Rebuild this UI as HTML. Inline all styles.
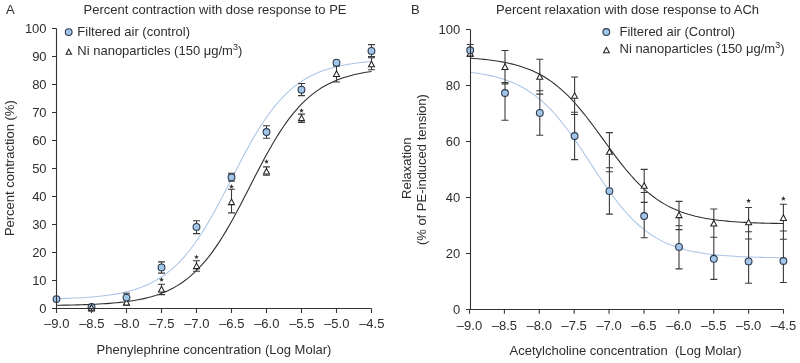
<!DOCTYPE html>
<html><head><meta charset="utf-8"><style>
html,body{margin:0;padding:0;background:#fff;}
body{width:800px;height:363px;overflow:hidden;}
svg{display:block;will-change:transform;}
text{font-family:"Liberation Sans",sans-serif;font-size:13px;fill:#2e2e2e;white-space:pre;}
</style></head><body>
<svg width="800" height="363" viewBox="0 0 800 363">
<rect width="800" height="363" fill="#fff"/>
<text x="6" y="13.8" text-anchor="start" >A</text>
<text x="411" y="13.8" text-anchor="start" >B</text>
<text x="83.5" y="14" text-anchor="start" >Percent contraction with dose response to PE</text>
<text x="496" y="14" text-anchor="start" >Percent relaxation with dose response to ACh</text>
<text x="214" y="353.8" text-anchor="middle" >Phenylephrine concentration (Log Molar)</text>
<text x="625.5" y="355.3" text-anchor="middle" >Acetylcholine concentration&#160;&#160;(Log Molar)</text>
<text x="0" y="0" text-anchor="middle" transform="translate(14.2,168.2) rotate(-90)">Percent contraction (%)</text>
<text x="0" y="0" text-anchor="middle" transform="translate(411.3,168.2) rotate(-90)">Relaxation</text>
<text x="0" y="0" text-anchor="middle" transform="translate(426.1,169.6) rotate(-90)">(% of PE-induced tension)</text>
<text x="46.6" y="313.4" text-anchor="end" >0</text>
<text x="46.6" y="285.4" text-anchor="end" >10</text>
<text x="46.6" y="257.4" text-anchor="end" >20</text>
<text x="46.6" y="229.4" text-anchor="end" >30</text>
<text x="46.6" y="201.4" text-anchor="end" >40</text>
<text x="46.6" y="173.4" text-anchor="end" >50</text>
<text x="46.6" y="145.4" text-anchor="end" >60</text>
<text x="46.6" y="117.4" text-anchor="end" >70</text>
<text x="46.6" y="89.4" text-anchor="end" >80</text>
<text x="46.6" y="61.4" text-anchor="end" >90</text>
<text x="46.6" y="33.4" text-anchor="end" >100</text>
<text x="56.8" y="328.2" text-anchor="middle" >–9.0</text>
<text x="91.8" y="328.2" text-anchor="middle" >–8.5</text>
<text x="126.8" y="328.2" text-anchor="middle" >–8.0</text>
<text x="161.8" y="328.2" text-anchor="middle" >–7.5</text>
<text x="196.8" y="328.2" text-anchor="middle" >–7.0</text>
<text x="231.8" y="328.2" text-anchor="middle" >–6.5</text>
<text x="266.8" y="328.2" text-anchor="middle" >–6.0</text>
<text x="301.8" y="328.2" text-anchor="middle" >–5.5</text>
<text x="336.8" y="328.2" text-anchor="middle" >–5.0</text>
<text x="371.8" y="328.2" text-anchor="middle" >–4.5</text>
<text x="460.3" y="313.9" text-anchor="end" >0</text>
<text x="460.3" y="257.9" text-anchor="end" >20</text>
<text x="460.3" y="201.9" text-anchor="end" >40</text>
<text x="460.3" y="145.9" text-anchor="end" >60</text>
<text x="460.3" y="89.9" text-anchor="end" >80</text>
<text x="460.3" y="33.9" text-anchor="end" >100</text>
<text x="469.5" y="329.8" text-anchor="middle" >–9.0</text>
<text x="504.3888888888889" y="329.8" text-anchor="middle" >–8.5</text>
<text x="539.2777777777778" y="329.8" text-anchor="middle" >–8.0</text>
<text x="574.1666666666666" y="329.8" text-anchor="middle" >–7.5</text>
<text x="609.0555555555555" y="329.8" text-anchor="middle" >–7.0</text>
<text x="643.9444444444445" y="329.8" text-anchor="middle" >–6.5</text>
<text x="678.8333333333334" y="329.8" text-anchor="middle" >–6.0</text>
<text x="713.7222222222222" y="329.8" text-anchor="middle" >–5.5</text>
<text x="748.6111111111111" y="329.8" text-anchor="middle" >–5.0</text>
<text x="783.5" y="329.8" text-anchor="middle" >–4.5</text>
<circle cx="68.70" cy="32.10" r="3.4" fill="#a3c5e8" stroke="#2b3a4f" stroke-width="1.1"/>
<path d="M68.80,49.16 L71.50,54.16 L66.10,54.16 Z" fill="#fff" stroke="#222" stroke-width="1.05"/>
<text x="77.3" y="35.5" text-anchor="start" >Filtered air (control)</text>
<text x="77.3" y="55.0" text-anchor="start" >Ni nanoparticles (150 μg/m<tspan dy="-5" style="font-size:9px">3</tspan><tspan dy="5">)</tspan></text>
<circle cx="606.30" cy="32.00" r="3.4" fill="#a3c5e8" stroke="#2b3a4f" stroke-width="1.1"/>
<path d="M606.40,47.35 L609.30,52.72 L603.50,52.72 Z" fill="#fff" stroke="#222" stroke-width="1.05"/>
<text x="619.5" y="36.0" text-anchor="start" >Filtered air (Control)</text>
<text x="619.5" y="53.3" text-anchor="start" >Ni nanoparticles (150 μg/m<tspan dy="-5" style="font-size:9px">3</tspan><tspan dy="5">)</tspan></text>
<path d="M56.50,298.72 L60.04,298.62 L63.58,298.51 L67.12,298.39 L70.66,298.25 L74.20,298.09 L77.74,297.91 L81.28,297.72 L84.81,297.50 L88.35,297.25 L91.89,296.97 L95.43,296.67 L98.97,296.32 L102.51,295.93 L106.05,295.50 L109.59,295.02 L113.13,294.48 L116.67,293.88 L120.21,293.21 L123.75,292.46 L127.29,291.63 L130.83,290.70 L134.37,289.66 L137.90,288.52 L141.44,287.24 L144.98,285.83 L148.52,284.27 L152.06,282.54 L155.60,280.63 L159.14,278.53 L162.68,276.22 L166.22,273.69 L169.76,270.91 L173.30,267.89 L176.84,264.59 L180.38,261.02 L183.92,257.15 L187.46,252.99 L190.99,248.52 L194.53,243.75 L198.07,238.67 L201.61,233.30 L205.15,227.65 L208.69,221.72 L212.23,215.56 L215.77,209.17 L219.31,202.60 L222.85,195.88 L226.39,189.06 L229.93,182.16 L233.47,175.26 L237.01,168.37 L240.54,161.56 L244.08,154.86 L247.62,148.32 L251.16,141.96 L254.70,135.83 L258.24,129.95 L261.78,124.34 L265.32,119.01 L268.86,113.98 L272.40,109.26 L275.94,104.84 L279.48,100.73 L283.02,96.91 L286.56,93.38 L290.10,90.12 L293.63,87.14 L297.17,84.40 L300.71,81.90 L304.25,79.63 L307.79,77.56 L311.33,75.68 L314.87,73.98 L318.41,72.44 L321.95,71.05 L325.49,69.80 L329.03,68.67 L332.57,67.65 L336.11,66.74 L339.65,65.92 L343.19,65.18 L346.72,64.52 L350.26,63.93 L353.80,63.40 L357.34,62.93 L360.88,62.50 L364.42,62.12 L367.96,61.78 L371.50,61.48" fill="none" stroke="#a9c4e6" stroke-width="1.05"/>
<path d="M56.50,305.27 L60.04,305.22 L63.58,305.16 L67.12,305.10 L70.66,305.02 L74.20,304.94 L77.74,304.85 L81.28,304.75 L84.81,304.64 L88.35,304.51 L91.89,304.37 L95.43,304.21 L98.97,304.02 L102.51,303.82 L106.05,303.59 L109.59,303.34 L113.13,303.05 L116.67,302.73 L120.21,302.38 L123.75,301.97 L127.29,301.52 L130.83,301.02 L134.37,300.46 L137.90,299.83 L141.44,299.13 L144.98,298.34 L148.52,297.47 L152.06,296.50 L155.60,295.41 L159.14,294.20 L162.68,292.86 L166.22,291.38 L169.76,289.73 L173.30,287.91 L176.84,285.90 L180.38,283.68 L183.92,281.24 L187.46,278.57 L190.99,275.64 L194.53,272.45 L198.07,268.98 L201.61,265.22 L205.15,261.16 L208.69,256.79 L212.23,252.11 L215.77,247.12 L219.31,241.83 L222.85,236.25 L226.39,230.38 L229.93,224.26 L233.47,217.91 L237.01,211.36 L240.54,204.65 L244.08,197.82 L247.62,190.91 L251.16,183.97 L254.70,177.05 L258.24,170.20 L261.78,163.45 L265.32,156.85 L268.86,150.43 L272.40,144.24 L275.94,138.30 L279.48,132.63 L283.02,127.25 L286.56,122.17 L290.10,117.40 L293.63,112.94 L297.17,108.79 L300.71,104.94 L304.25,101.39 L307.79,98.12 L311.33,95.12 L314.87,92.37 L318.41,89.87 L321.95,87.59 L325.49,85.52 L329.03,83.64 L332.57,81.95 L336.11,80.41 L339.65,79.03 L343.19,77.79 L346.72,76.67 L350.26,75.66 L353.80,74.76 L357.34,73.95 L360.88,73.23 L364.42,72.58 L367.96,72.00 L371.50,71.48" fill="none" stroke="#2e2e2e" stroke-width="1.1"/>
<path d="M470.20,72.31 L473.72,72.76 L477.24,73.26 L480.76,73.81 L484.28,74.43 L487.80,75.12 L491.31,75.88 L494.83,76.73 L498.35,77.67 L501.87,78.72 L505.39,79.87 L508.91,81.15 L512.43,82.56 L515.95,84.11 L519.47,85.82 L522.99,87.70 L526.51,89.75 L530.02,91.99 L533.54,94.44 L537.06,97.09 L540.58,99.96 L544.10,103.06 L547.62,106.39 L551.14,109.96 L554.66,113.76 L558.18,117.80 L561.70,122.06 L565.22,126.54 L568.73,131.22 L572.25,136.09 L575.77,141.11 L579.29,146.28 L582.81,151.54 L586.33,156.89 L589.85,162.27 L593.37,167.66 L596.89,173.03 L600.41,178.33 L603.93,183.53 L607.44,188.62 L610.96,193.55 L614.48,198.30 L618.00,202.86 L621.52,207.21 L625.04,211.33 L628.56,215.23 L632.08,218.88 L635.60,222.31 L639.12,225.50 L642.64,228.46 L646.16,231.19 L649.67,233.72 L653.19,236.03 L656.71,238.16 L660.23,240.10 L663.75,241.87 L667.27,243.49 L670.79,244.95 L674.31,246.28 L677.83,247.48 L681.35,248.56 L684.87,249.54 L688.38,250.43 L691.90,251.23 L695.42,251.94 L698.94,252.59 L702.46,253.16 L705.98,253.68 L709.50,254.15 L713.02,254.57 L716.54,254.94 L720.06,255.28 L723.58,255.58 L727.09,255.85 L730.61,256.09 L734.13,256.30 L737.65,256.50 L741.17,256.67 L744.69,256.82 L748.21,256.96 L751.73,257.08 L755.25,257.19 L758.77,257.29 L762.29,257.38 L765.80,257.46 L769.32,257.53 L772.84,257.59 L776.36,257.65 L779.88,257.70 L783.40,257.74" fill="none" stroke="#a9c4e6" stroke-width="1.05"/>
<path d="M470.20,58.24 L473.72,58.49 L477.24,58.76 L480.76,59.07 L484.28,59.42 L487.80,59.80 L491.31,60.23 L494.83,60.72 L498.35,61.25 L501.87,61.85 L505.39,62.52 L508.91,63.27 L512.43,64.09 L515.95,65.01 L519.47,66.03 L522.99,67.16 L526.51,68.41 L530.02,69.79 L533.54,71.32 L537.06,72.99 L540.58,74.82 L544.10,76.83 L547.62,79.03 L551.14,81.41 L554.66,84.00 L558.18,86.80 L561.70,89.81 L565.22,93.03 L568.73,96.48 L572.25,100.14 L575.77,104.00 L579.29,108.07 L582.81,112.31 L586.33,116.73 L589.85,121.29 L593.37,125.97 L596.89,130.74 L600.41,135.57 L603.93,140.44 L607.44,145.30 L610.96,150.12 L614.48,154.88 L618.00,159.55 L621.52,164.09 L625.04,168.48 L628.56,172.70 L632.08,176.74 L635.60,180.58 L639.12,184.21 L642.64,187.62 L646.16,190.82 L649.67,193.80 L653.19,196.56 L656.71,199.12 L660.23,201.48 L663.75,203.65 L667.27,205.63 L670.79,207.44 L674.31,209.10 L677.83,210.60 L681.35,211.96 L684.87,213.19 L688.38,214.31 L691.90,215.31 L695.42,216.22 L698.94,217.03 L702.46,217.77 L705.98,218.42 L709.50,219.01 L713.02,219.54 L716.54,220.02 L720.06,220.44 L723.58,220.82 L727.09,221.16 L730.61,221.47 L734.13,221.74 L737.65,221.98 L741.17,222.20 L744.69,222.39 L748.21,222.56 L751.73,222.72 L755.25,222.86 L758.77,222.98 L762.29,223.09 L765.80,223.18 L769.32,223.27 L772.84,223.35 L776.36,223.42 L779.88,223.48 L783.40,223.53" fill="none" stroke="#2e2e2e" stroke-width="1.1"/>
<path d="M91.50,311.10 V311.10 M88.00,311.10 H95.00" stroke="#3a3a3a" stroke-width="1.1" fill="none"/>
<path d="M126.50,293.30 V305.20 M123.00,293.30 H130.00 M123.00,305.20 H130.00" stroke="#3a3a3a" stroke-width="1.1" fill="none"/>
<path d="M161.50,261.90 V273.10 M158.00,261.90 H165.00 M158.00,273.10 H165.00" stroke="#3a3a3a" stroke-width="1.1" fill="none"/>
<path d="M161.50,284.20 V294.60 M158.00,284.20 H165.00 M158.00,294.60 H165.00" stroke="#3a3a3a" stroke-width="1.1" fill="none"/>
<path d="M196.50,220.70 V233.60 M193.00,220.70 H200.00 M193.00,233.60 H200.00" stroke="#3a3a3a" stroke-width="1.1" fill="none"/>
<path d="M196.50,260.70 V271.20 M193.00,260.70 H200.00 M193.00,271.20 H200.00" stroke="#3a3a3a" stroke-width="1.1" fill="none"/>
<path d="M231.50,173.20 V181.20 M228.00,173.20 H235.00 M228.00,181.20 H235.00" stroke="#3a3a3a" stroke-width="1.1" fill="none"/>
<path d="M231.50,189.30 V212.90 M228.00,189.30 H235.00 M228.00,212.90 H235.00" stroke="#3a3a3a" stroke-width="1.1" fill="none"/>
<path d="M266.50,125.70 V138.20 M263.00,125.70 H270.00 M263.00,138.20 H270.00" stroke="#3a3a3a" stroke-width="1.1" fill="none"/>
<path d="M266.50,166.90 V175.20 M263.00,166.90 H270.00 M263.00,175.20 H270.00" stroke="#3a3a3a" stroke-width="1.1" fill="none"/>
<path d="M301.50,83.50 V95.60 M298.00,83.50 H305.00 M298.00,95.60 H305.00" stroke="#3a3a3a" stroke-width="1.1" fill="none"/>
<path d="M301.50,114.10 V122.40 M298.00,114.10 H305.00 M298.00,122.40 H305.00" stroke="#3a3a3a" stroke-width="1.1" fill="none"/>
<path d="M336.50,66.00 V82.00 M333.00,66.00 H340.00 M333.00,82.00 H340.00" stroke="#3a3a3a" stroke-width="1.1" fill="none"/>
<path d="M371.50,44.60 V56.60 M368.00,44.60 H375.00 M368.00,56.60 H375.00" stroke="#3a3a3a" stroke-width="1.1" fill="none"/>
<path d="M371.50,57.80 V69.80 M368.00,57.80 H375.00 M368.00,69.80 H375.00" stroke="#3a3a3a" stroke-width="1.1" fill="none"/>
<circle cx="56.50" cy="299.10" r="3.4" fill="#a3c5e8" stroke="#2b3a4f" stroke-width="1.1"/>
<circle cx="91.50" cy="307.00" r="3.4" fill="#a3c5e8" stroke="#2b3a4f" stroke-width="1.1"/>
<path d="M91.50,304.65 L94.50,310.20 L88.50,310.20 Z" fill="#fff" stroke="#222" stroke-width="1.05"/>
<path d="M126.50,299.45 L129.50,305.00 L123.50,305.00 Z" fill="#fff" stroke="#222" stroke-width="1.05"/>
<circle cx="126.50" cy="297.60" r="3.4" fill="#a3c5e8" stroke="#2b3a4f" stroke-width="1.1"/>
<path d="M161.50,286.35 L164.50,291.90 L158.50,291.90 Z" fill="#fff" stroke="#222" stroke-width="1.05"/>
<polygon points="161.50,277.10 162.12,278.85 163.97,278.90 162.50,280.02 163.03,281.80 161.50,280.75 159.97,281.80 160.50,280.02 159.03,278.90 160.88,278.85" fill="#333"/>
<circle cx="161.50" cy="267.40" r="3.4" fill="#a3c5e8" stroke="#2b3a4f" stroke-width="1.1"/>
<path d="M196.50,263.05 L199.50,268.60 L193.50,268.60 Z" fill="#fff" stroke="#222" stroke-width="1.05"/>
<polygon points="196.50,254.40 197.12,256.15 198.97,256.20 197.50,257.32 198.03,259.10 196.50,258.05 194.97,259.10 195.50,257.32 194.03,256.20 195.88,256.15" fill="#333"/>
<circle cx="196.50" cy="226.90" r="3.4" fill="#a3c5e8" stroke="#2b3a4f" stroke-width="1.1"/>
<path d="M231.50,199.05 L234.50,204.60 L228.50,204.60 Z" fill="#fff" stroke="#222" stroke-width="1.05"/>
<polygon points="231.50,184.10 232.12,185.85 233.97,185.90 232.50,187.02 233.03,188.80 231.50,187.75 229.97,188.80 230.50,187.02 229.03,185.90 230.88,185.85" fill="#333"/>
<circle cx="231.50" cy="177.30" r="3.4" fill="#a3c5e8" stroke="#2b3a4f" stroke-width="1.1"/>
<path d="M266.50,168.45 L269.50,174.00 L263.50,174.00 Z" fill="#fff" stroke="#222" stroke-width="1.05"/>
<polygon points="266.50,159.00 267.12,160.75 268.97,160.80 267.50,161.92 268.03,163.70 266.50,162.65 264.97,163.70 265.50,161.92 264.03,160.80 265.88,160.75" fill="#333"/>
<circle cx="266.50" cy="132.00" r="3.4" fill="#a3c5e8" stroke="#2b3a4f" stroke-width="1.1"/>
<path d="M301.50,115.05 L304.50,120.60 L298.50,120.60 Z" fill="#fff" stroke="#222" stroke-width="1.05"/>
<polygon points="301.50,108.00 302.12,109.75 303.97,109.80 302.50,110.92 303.03,112.70 301.50,111.65 299.97,112.70 300.50,110.92 299.03,109.80 300.88,109.75" fill="#333"/>
<circle cx="301.50" cy="89.70" r="3.4" fill="#a3c5e8" stroke="#2b3a4f" stroke-width="1.1"/>
<path d="M336.50,70.85 L339.50,76.40 L333.50,76.40 Z" fill="#fff" stroke="#222" stroke-width="1.05"/>
<circle cx="336.50" cy="62.70" r="3.4" fill="#a3c5e8" stroke="#2b3a4f" stroke-width="1.1"/>
<path d="M371.50,61.25 L374.50,66.80 L368.50,66.80 Z" fill="#fff" stroke="#222" stroke-width="1.05"/>
<circle cx="371.50" cy="50.90" r="3.4" fill="#a3c5e8" stroke="#2b3a4f" stroke-width="1.1"/>
<path d="M470.20,44.50 V56.50 M466.70,44.50 H473.70 M466.70,56.50 H473.70" stroke="#3a3a3a" stroke-width="1.1" fill="none"/>
<path d="M505.00,50.50 V120.30 M501.50,50.50 H508.50 M501.50,82.60 H508.50 M501.50,84.00 H508.50 M501.50,120.30 H508.50" stroke="#3a3a3a" stroke-width="1.1" fill="none"/>
<path d="M539.80,59.20 V135.30 M536.30,59.20 H543.30 M536.30,90.80 H543.30 M536.30,94.10 H543.30 M536.30,135.30 H543.30" stroke="#3a3a3a" stroke-width="1.1" fill="none"/>
<path d="M574.60,77.00 V159.60 M571.10,77.00 H578.10 M571.10,112.20 H578.10 M571.10,114.50 H578.10 M571.10,159.60 H578.10" stroke="#3a3a3a" stroke-width="1.1" fill="none"/>
<path d="M609.40,132.60 V214.10 M605.90,132.60 H612.90 M605.90,167.80 H612.90 M605.90,171.80 H612.90 M605.90,214.10 H612.90" stroke="#3a3a3a" stroke-width="1.1" fill="none"/>
<path d="M644.20,169.40 V237.70 M640.70,169.40 H647.70 M640.70,192.50 H647.70 M640.70,202.40 H647.70 M640.70,237.70 H647.70" stroke="#3a3a3a" stroke-width="1.1" fill="none"/>
<path d="M679.00,201.40 V268.90 M675.50,201.40 H682.50 M675.50,225.80 H682.50 M675.50,229.60 H682.50 M675.50,268.90 H682.50" stroke="#3a3a3a" stroke-width="1.1" fill="none"/>
<path d="M713.80,209.00 V279.40 M710.30,209.00 H717.30 M710.30,237.30 H717.30 M710.30,279.40 H717.30" stroke="#3a3a3a" stroke-width="1.1" fill="none"/>
<path d="M748.60,207.50 V283.30 M745.10,207.50 H752.10 M745.10,231.80 H752.10 M745.10,239.00 H752.10 M745.10,283.30 H752.10" stroke="#3a3a3a" stroke-width="1.1" fill="none"/>
<path d="M783.40,204.20 V282.50 M779.90,204.20 H786.90 M779.90,231.00 H786.90 M779.90,239.30 H786.90 M779.90,282.50 H786.90" stroke="#3a3a3a" stroke-width="1.1" fill="none"/>
<path d="M470.20,50.35 L473.20,55.90 L467.20,55.90 Z" fill="#fff" stroke="#222" stroke-width="1.05"/>
<circle cx="470.20" cy="50.30" r="3.4" fill="#a3c5e8" stroke="#2b3a4f" stroke-width="1.1"/>
<path d="M505.00,63.85 L508.00,69.40 L502.00,69.40 Z" fill="#fff" stroke="#222" stroke-width="1.05"/>
<circle cx="505.00" cy="93.00" r="3.4" fill="#a3c5e8" stroke="#2b3a4f" stroke-width="1.1"/>
<path d="M539.80,73.65 L542.80,79.20 L536.80,79.20 Z" fill="#fff" stroke="#222" stroke-width="1.05"/>
<circle cx="539.80" cy="112.90" r="3.4" fill="#a3c5e8" stroke="#2b3a4f" stroke-width="1.1"/>
<path d="M574.60,92.75 L577.60,98.30 L571.60,98.30 Z" fill="#fff" stroke="#222" stroke-width="1.05"/>
<circle cx="574.60" cy="136.00" r="3.4" fill="#a3c5e8" stroke="#2b3a4f" stroke-width="1.1"/>
<path d="M609.40,148.75 L612.40,154.30 L606.40,154.30 Z" fill="#fff" stroke="#222" stroke-width="1.05"/>
<circle cx="609.40" cy="191.10" r="3.4" fill="#a3c5e8" stroke="#2b3a4f" stroke-width="1.1"/>
<path d="M644.20,182.75 L647.20,188.30 L641.20,188.30 Z" fill="#fff" stroke="#222" stroke-width="1.05"/>
<circle cx="644.20" cy="216.00" r="3.4" fill="#a3c5e8" stroke="#2b3a4f" stroke-width="1.1"/>
<path d="M679.00,212.05 L682.00,217.60 L676.00,217.60 Z" fill="#fff" stroke="#222" stroke-width="1.05"/>
<circle cx="679.00" cy="246.90" r="3.4" fill="#a3c5e8" stroke="#2b3a4f" stroke-width="1.1"/>
<path d="M713.80,220.45 L716.80,226.00 L710.80,226.00 Z" fill="#fff" stroke="#222" stroke-width="1.05"/>
<circle cx="713.80" cy="258.80" r="3.4" fill="#a3c5e8" stroke="#2b3a4f" stroke-width="1.1"/>
<path d="M748.60,219.25 L751.60,224.80 L745.60,224.80 Z" fill="#fff" stroke="#222" stroke-width="1.05"/>
<circle cx="748.60" cy="261.40" r="3.4" fill="#a3c5e8" stroke="#2b3a4f" stroke-width="1.1"/>
<polygon points="748.60,198.30 749.22,200.05 751.07,200.10 749.60,201.22 750.13,203.00 748.60,201.95 747.07,203.00 747.60,201.22 746.13,200.10 747.98,200.05" fill="#333"/>
<path d="M783.40,214.85 L786.40,220.40 L780.40,220.40 Z" fill="#fff" stroke="#222" stroke-width="1.05"/>
<circle cx="783.40" cy="261.00" r="3.4" fill="#a3c5e8" stroke="#2b3a4f" stroke-width="1.1"/>
<polygon points="783.40,196.10 784.02,197.85 785.87,197.90 784.40,199.02 784.93,200.80 783.40,199.75 781.87,200.80 782.40,199.02 780.93,197.90 782.78,197.85" fill="#333"/>
<path d="M56.5,28.5 V313.0 M52.0,308.5 H371.5 M52.0,308.50 H56.5 M52.0,280.50 H56.5 M52.0,252.50 H56.5 M52.0,224.50 H56.5 M52.0,196.50 H56.5 M52.0,168.50 H56.5 M52.0,140.50 H56.5 M52.0,112.50 H56.5 M52.0,84.50 H56.5 M52.0,56.50 H56.5 M52.0,28.50 H56.5 M56.50,308.5 V313.0 M91.50,308.5 V313.0 M126.50,308.5 V313.0 M161.50,308.5 V313.0 M196.50,308.5 V313.0 M231.50,308.5 V313.0 M266.50,308.5 V313.0 M301.50,308.5 V313.0 M336.50,308.5 V313.0 M371.50,308.5 V313.0 M470.5,29.5 V309.5 M466.0,309.5 H783.5 M466.0,309.50 H470.5 M466.0,253.50 H470.5 M466.0,197.50 H470.5 M466.0,141.50 H470.5 M466.0,85.50 H470.5 M466.0,29.50 H470.5 M469.50,309.5 V313.8 M504.39,309.5 V313.8 M539.28,309.5 V313.8 M574.17,309.5 V313.8 M609.06,309.5 V313.8 M643.94,309.5 V313.8 M678.83,309.5 V313.8 M713.72,309.5 V313.8 M748.61,309.5 V313.8 M783.50,309.5 V313.8" stroke="#333" stroke-width="1.1" fill="none"/>
</svg>
</body></html>
